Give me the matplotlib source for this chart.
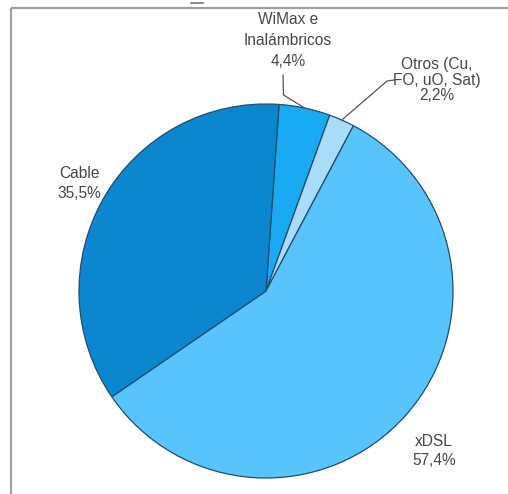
import numpy as np
import matplotlib
matplotlib.use("Agg")
import matplotlib.pyplot as plt

# Broadband access technologies share (%)
categories = ["WiMax e\nInalámbricos", "Otros (Cu,\nFO, uO, Sat)", "xDSL", "Cable"]
values = [4.4, 2.2, 57.4, 35.5]
value_labels = ["4,4%", "2,2%", "57,4%", "35,5%"]
colors = ["#1aa9f3", "#a8dcf8", "#57c5fb", "#0a87cf"]

W, H = 508, 494
fig = plt.figure(figsize=(W / 100, H / 100), dpi=100)
ax = fig.add_axes([0, 0, 1, 1])

cx, cy, r = 266, H - 291, 187
wedges, _ = ax.pie(values, colors=colors, startangle=86, counterclock=False,
                   center=(cx, cy), radius=r,
                   wedgeprops=dict(edgecolor="#1f4d6e", linewidth=0.9))
ax.set_xlim(0, W)
ax.set_ylim(0, H)
ax.set_aspect("equal")
ax.axis("off")

# frame around the chart area
ax.plot([10.5, 10.5], [0, H - 8.5], color="#a0a0a0", lw=1.6, solid_capstyle="butt")
ax.plot([10.5, W], [H - 8.5, H - 8.5], color="#a0a0a0", lw=1.6, solid_capstyle="butt")
ax.plot([191, 203], [H - 3, H - 3], color="#777777", lw=1.2)

font = dict(family=["Liberation Sans", "DejaVu Sans"], fontsize=11.2, color="#484848",
            ha="center", va="center")

def edge_point(w, frac=1.0):
    ang = np.deg2rad((w.theta1 + w.theta2) / 2)
    return cx + r * frac * np.cos(ang), cy + r * frac * np.sin(ang)

# label anchor (x, first-line y, line step) in pixels from the top-left
label_pos = {
    "WiMax e\nInalámbricos": (288, 20, 21),
    "Otros (Cu,\nFO, uO, Sat)": (437, 65, 15.5),
    "xDSL": (434, 442, 18.5),
    "Cable": (79, 173, 20),
}
for w, cat, vl in zip(wedges, categories, value_labels):
    x, y0, step = label_pos[cat]
    for i, line in enumerate(cat.split("\n") + [vl]):
        ax.text(x, H - (y0 + i * step), line, **font)

# leader lines for the small slices
ex, ey = edge_point(wedges[0])
ax.plot([283, 283.5, ex], [H - 75, H - 95, ey], color="#555555", lw=0.9)
ex, ey = edge_point(wedges[1])
ax.plot([394, 387, ex], [H - 80, H - 81, ey], color="#555555", lw=0.9)

fig.savefig("out.png", dpi=100, facecolor="white")
